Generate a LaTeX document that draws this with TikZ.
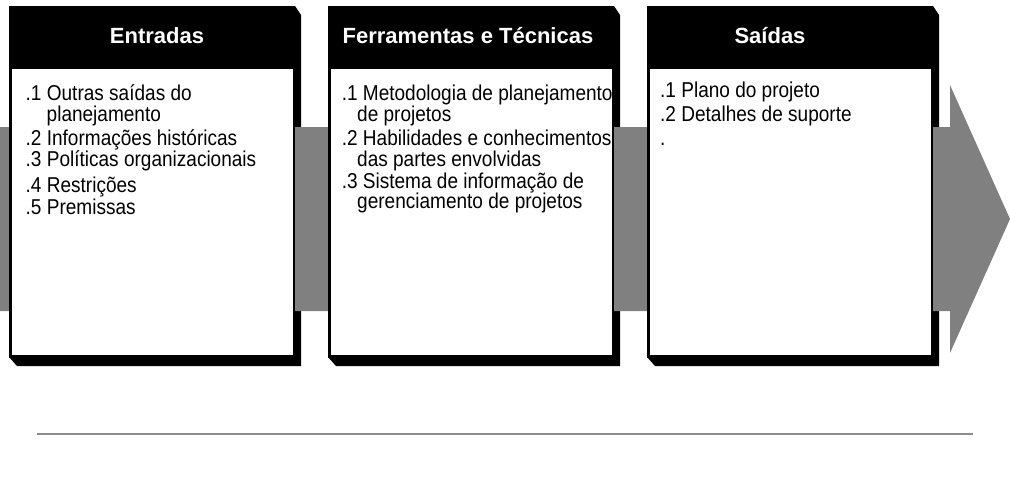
\documentclass[tikz,border=0pt]{standalone}
\usepackage{fontspec}
\setmainfont{Liberation Sans}
\newfontfamily\itemfont[FakeStretch=0.885]{Liberation Sans}
\definecolor{bandgray}{HTML}{808080}
\definecolor{rulegray}{HTML}{8C8C8C}
\tikzset{
  shadowfill/.style={fill=black},
  bandfill/.style={fill=bandgray},
  boxouter/.style={fill=black},
  boxinner/.style={fill=white},
  headtxt/.style={text=white, font=\fontsize{22}{26}\selectfont\bfseries, inner sep=0pt, anchor=base},
  itemtxt/.style={font=\itemfont\fontsize{21.5}{25}\selectfont, inner sep=0pt, anchor=base west},
  rulestyle/.style={draw=rulegray, line width=1.5pt}
}
\begin{document}
\begin{tikzpicture}[x=1pt,y=-1pt]
\useasboundingbox (0,0) rectangle (1010,499);
% shadows
\foreach \L in {9,328,647}{
  \fill[shadowfill] ({\L+286},6) -- ({\L+292},15) -- ({\L+292},366) -- ({\L+8},366) -- (\L,357) -- cycle;
}
% gray band and arrow head
\fill[bandfill] (0,127) -- (950,127) -- (950,85) -- (1010,219) -- (950,353) -- (950,311) -- (0,311) -- cycle;
% main boxes
\foreach \L in {9,328,647}{
  \fill[boxouter] (\L,6) rectangle ({\L+286},358);
  \fill[boxinner] ({\L+3},69) rectangle ({\L+284},355);
}
% headers
\node[headtxt] (h1) at (157,43) {Entradas};
\node[headtxt] (h2) at (468,43) {Ferramentas e Técnicas};
\node[headtxt] (h3) at (770,43) {Saídas};
% box 1 items
\node[itemtxt] (a1) at (25.5,100) {.1 Outras saídas do};
\node[itemtxt] (a1b) at (46.5,121) {planejamento};
\node[itemtxt] (a2) at (25.5,145) {.2 Informações históricas};
\node[itemtxt] (a3) at (25.5,166) {.3 Políticas organizacionais};
\node[itemtxt] (a4) at (25.5,192) {.4 Restrições};
\node[itemtxt] (a5) at (25.5,214) {.5 Premissas};
% box 2 items
\node[itemtxt] (b1) at (341.6,100) {.1 Metodologia de planejamento};
\node[itemtxt] (b1b) at (357,121) {de projetos};
\node[itemtxt] (b2) at (341.6,145) {.2 Habilidades e conhecimentos};
\node[itemtxt] (b2b) at (357,166) {das partes envolvidas};
\node[itemtxt] (b3) at (341.6,188) {.3 Sistema de informação de};
\node[itemtxt] (b3b) at (357,208) {gerenciamento de projetos};
% box 3 items
\node[itemtxt] (c1) at (660,97) {.1 Plano do projeto};
\node[itemtxt] (c2) at (660,121) {.2 Detalhes de suporte};
\node[itemtxt] (c3) at (660,145) {.};
% bottom rule
\coordinate (r1) at (37,434);
\coordinate (r2) at (973,434);
\draw[rulestyle] (r1) -- (r2);
\end{tikzpicture}
\end{document}
